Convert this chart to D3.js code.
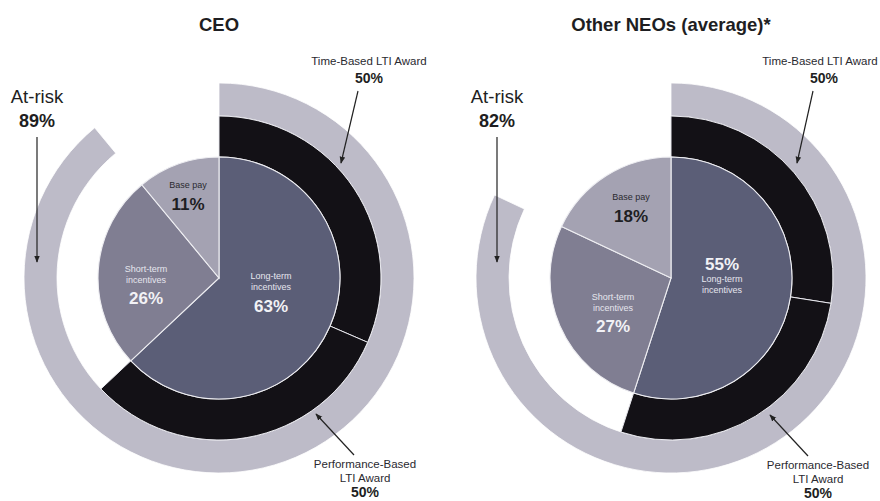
<!DOCTYPE html>
<html>
<head>
<meta charset="utf-8">
<script src="https://cdn.jsdelivr.net/npm/d3@7"></script>
<style>
  html, body { margin: 0; padding: 0; background: #fff; }
  svg { display: block; font-family: "Liberation Sans", Arial, sans-serif; }
</style>
</head>
<body>
<svg id="chart" width="880" height="501"></svg>
<script>
// ---- data ----
const panelTitles = ["CEO", "Other NEOs (average)*"];
const pieCategories = ["Long-term incentives", "Short-term incentives", "Base pay"];
const ceoMix = [63, 26, 11];
const neoMix = [55, 27, 18];
const ltiCategories = ["Time-Based LTI Award", "Performance-Based LTI Award"];
const ceoLtiSplit = [50, 50];
const neoLtiSplit = [50, 50];
const atRiskLabel = "At-risk";
const atRiskValues = [89, 82];

// ---- styles ----
const pieColors = d3.scaleOrdinal().domain(pieCategories).range(["#5b5e77", "#807e92", "#a4a2b2"]);
const ringColor = "#131116";
const outerColor = "#bdbbc8";
const textDark = "#1e1e22";

const svg = d3.select("#chart");
const angle = d3.scaleLinear().domain([0, 100]).range([0, 2 * Math.PI]);

const rPie = 121, rRingIn = 121, rRingOut = 162, rOuterIn = 162, rOuterOut = 195;

svg.append("defs").append("marker")
  .attr("id", "arrow").attr("viewBox", "0 0 10 10").attr("refX", 9).attr("refY", 5)
  .attr("markerWidth", 7).attr("markerHeight", 7).attr("markerUnits", "userSpaceOnUse")
  .attr("orient", "auto")
  .append("path").attr("d", "M0,1 L10,5 L0,9 Z").attr("fill", "#222");

const panels = [
  { title: panelTitles[0], cx: 219, cy: 278, mix: ceoMix, split: ceoLtiSplit, risk: atRiskValues[0],
    titleX: 219,
    labels: {
      base: { x: 188, y: 188 },
      st: { x: 146, y: 272 },
      lt: { x: 271, y: 279, pctFirst: false }
    },
    timeLbl: { x: 369, y: 65, ax1: 358, ay1: 91, ax2: 341, ay2: 163 },
    perfLbl: { x: 365, y: 468, ax1: 354, ay1: 455, ax2: 316, ay2: 414 },
    risk_: { x: 37, y: 103, ax: 37, ay1: 137, ay2: 262 }
  },
  { title: panelTitles[1], cx: 671, cy: 278, mix: neoMix, split: neoLtiSplit, risk: atRiskValues[1],
    titleX: 671,
    labels: {
      base: { x: 631, y: 200 },
      st: { x: 613, y: 300 },
      lt: { x: 722, y: 265, pctFirst: true }
    },
    timeLbl: { x: 820, y: 65, ax1: 813, ay1: 91, ax2: 797, ay2: 163 },
    perfLbl: { x: 818, y: 469, ax1: 808, ay1: 456, ax2: 770, ay2: 415 },
    risk_: { x: 497, y: 103, ax: 497, ay1: 137, ay2: 262 }
  }
];

panels.forEach(p => {
  const g = svg.append("g").attr("transform", `translate(${p.cx},${p.cy})`);

  // outer at-risk ring
  const atRiskArc = d3.arc().innerRadius(rOuterIn).outerRadius(rOuterOut)
    .startAngle(0).endAngle(angle(p.risk));
  g.append("path").attr("d", atRiskArc()).attr("fill", outerColor)
    .attr("stroke", "#fff").attr("stroke-width", 0.8);

  // LTI ring (time-based / performance-based share of LTI)
  const ltiTotal = p.mix[0];
  const ringPie = d3.pie().sort(null).value(d => d).startAngle(0).endAngle(angle(ltiTotal));
  const ringArc = d3.arc().innerRadius(rRingIn).outerRadius(rRingOut);
  g.selectAll(".ring").data(ringPie(p.split)).join("path")
    .attr("d", ringArc).attr("fill", ringColor)
    .attr("stroke", "#e8e8ee").attr("stroke-width", 1);

  // inner pie
  const pie = d3.pie().sort(null).value(d => d);
  const pieArc = d3.arc().innerRadius(0).outerRadius(rPie);
  g.selectAll(".slice").data(pie(p.mix)).join("path")
    .attr("d", pieArc).attr("fill", (d, i) => pieColors(pieCategories[i]))
    .attr("stroke", "#eeeef2").attr("stroke-width", 1.1);

  // title
  svg.append("text").attr("x", p.titleX).attr("y", 31).attr("text-anchor", "middle")
    .attr("font-size", 18.5).attr("font-weight", "bold").attr("fill", textDark).text(p.title);

  // base pay label
  const L = p.labels;
  svg.append("text").attr("x", L.base.x).attr("y", L.base.y).attr("text-anchor", "middle")
    .attr("font-size", 9).attr("fill", "#2a2a30").text("Base pay");
  svg.append("text").attr("x", L.base.x).attr("y", L.base.y + 22).attr("text-anchor", "middle")
    .attr("font-size", 17).attr("font-weight", "bold").attr("fill", textDark).text(p.mix[2] + "%");

  // short-term label
  svg.append("text").attr("x", L.st.x).attr("y", L.st.y).attr("text-anchor", "middle")
    .attr("font-size", 9).attr("fill", "#e6e6ee").text("Short-term");
  svg.append("text").attr("x", L.st.x).attr("y", L.st.y + 11).attr("text-anchor", "middle")
    .attr("font-size", 9).attr("fill", "#e6e6ee").text("incentives");
  svg.append("text").attr("x", L.st.x).attr("y", L.st.y + 32).attr("text-anchor", "middle")
    .attr("font-size", 17).attr("font-weight", "bold").attr("fill", "#f2f2f6").text(p.mix[1] + "%");

  // long-term label
  if (L.lt.pctFirst) {
    svg.append("text").attr("x", L.lt.x).attr("y", L.lt.y + 5).attr("text-anchor", "middle")
      .attr("font-size", 17).attr("font-weight", "bold").attr("fill", "#f2f2f6").text(p.mix[0] + "%");
    svg.append("text").attr("x", L.lt.x).attr("y", L.lt.y + 17).attr("text-anchor", "middle")
      .attr("font-size", 9).attr("fill", "#e6e6ee").text("Long-term");
    svg.append("text").attr("x", L.lt.x).attr("y", L.lt.y + 28).attr("text-anchor", "middle")
      .attr("font-size", 9).attr("fill", "#e6e6ee").text("incentives");
  } else {
    svg.append("text").attr("x", L.lt.x).attr("y", L.lt.y).attr("text-anchor", "middle")
      .attr("font-size", 9).attr("fill", "#e6e6ee").text("Long-term");
    svg.append("text").attr("x", L.lt.x).attr("y", L.lt.y + 11).attr("text-anchor", "middle")
      .attr("font-size", 9).attr("fill", "#e6e6ee").text("incentives");
    svg.append("text").attr("x", L.lt.x).attr("y", L.lt.y + 33).attr("text-anchor", "middle")
      .attr("font-size", 17).attr("font-weight", "bold").attr("fill", "#f2f2f6").text(p.mix[0] + "%");
  }

  // time-based annotation
  const T = p.timeLbl;
  svg.append("text").attr("x", T.x).attr("y", T.y).attr("text-anchor", "middle")
    .attr("font-size", 11.5).attr("fill", "#2a2a30").text(ltiCategories[0]);
  svg.append("text").attr("x", T.x + (p.timeLbl.x === 820 ? 4 : 0)).attr("y", T.y + 18).attr("text-anchor", "middle")
    .attr("font-size", 14).attr("font-weight", "bold").attr("fill", textDark).text(p.split[0] + "%");
  svg.append("line").attr("x1", T.ax1).attr("y1", T.ay1).attr("x2", T.ax2).attr("y2", T.ay2)
    .attr("stroke", "#222").attr("stroke-width", 1.2).attr("marker-end", "url(#arrow)");

  // performance-based annotation
  const P = p.perfLbl;
  svg.append("text").attr("x", P.x).attr("y", P.y).attr("text-anchor", "middle")
    .attr("font-size", 11.5).attr("fill", "#2a2a30").text("Performance-Based");
  svg.append("text").attr("x", P.x).attr("y", P.y + 14).attr("text-anchor", "middle")
    .attr("font-size", 11.5).attr("fill", "#2a2a30").text("LTI Award");
  svg.append("text").attr("x", P.x).attr("y", P.y + 29).attr("text-anchor", "middle")
    .attr("font-size", 14).attr("font-weight", "bold").attr("fill", textDark).text(p.split[1] + "%");
  svg.append("line").attr("x1", P.ax1).attr("y1", P.ay1).attr("x2", P.ax2).attr("y2", P.ay2)
    .attr("stroke", "#222").attr("stroke-width", 1.2).attr("marker-end", "url(#arrow)");

  // at-risk annotation
  const R = p.risk_;
  svg.append("text").attr("x", R.x).attr("y", R.y).attr("text-anchor", "middle")
    .attr("font-size", 18.5).attr("fill", textDark).text(atRiskLabel);
  svg.append("text").attr("x", R.x).attr("y", R.y + 24).attr("text-anchor", "middle")
    .attr("font-size", 18).attr("font-weight", "bold").attr("fill", textDark).text(p.risk + "%");
  svg.append("line").attr("x1", R.ax).attr("y1", R.ay1).attr("x2", R.ax).attr("y2", R.ay2)
    .attr("stroke", "#222").attr("stroke-width", 1.2).attr("marker-end", "url(#arrow)");
});
</script>
</body>
</html>
